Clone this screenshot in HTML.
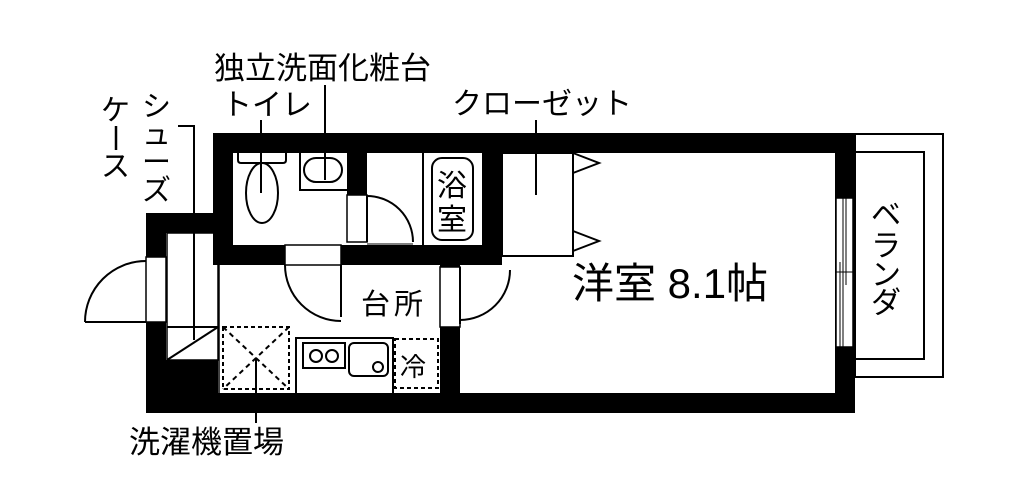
<!DOCTYPE html>
<html><head><meta charset="utf-8"><style>
html,body{margin:0;padding:0;background:#fff;}
svg{display:block;}
text{font-family:"Liberation Sans","Noto Sans CJK JP",sans-serif;fill:#000;}
</style></head><body>
<svg width="1024" height="486" viewBox="0 0 1024 486" xmlns="http://www.w3.org/2000/svg">
<rect x="855" y="134" width="88" height="243" fill="none" stroke="#000" stroke-width="2"/>
<rect x="855" y="152" width="69" height="207" fill="none" stroke="#000" stroke-width="2"/>
<g fill="#000">
<rect x="213" y="133" width="642" height="20"/>
<rect x="835" y="133" width="20" height="280"/>
<rect x="146" y="393" width="709" height="20"/>
<rect x="213" y="133" width="20" height="132"/>
<rect x="146" y="213" width="87" height="20"/>
<rect x="146" y="213" width="20" height="44"/>
<rect x="146" y="322" width="20" height="91"/>
<rect x="166" y="360" width="52" height="33"/>
<rect x="347" y="153" width="20" height="42"/>
<rect x="482" y="133" width="20" height="132"/>
<rect x="233" y="245" width="52" height="20"/>
<rect x="341" y="245" width="161" height="20"/>
<rect x="440" y="265" width="20" height="2"/>
<rect x="440" y="327" width="20" height="66"/>
<rect x="490" y="245" width="12" height="20"/>
</g>
<g fill="none" stroke="#000" stroke-width="2">
<rect x="146" y="257" width="20" height="65" fill="#fff" stroke-width="1.5"/>
<line x1="85" y1="322" x2="146" y2="322"/>
<path d="M85 322 A61 61 0 0 1 146 261"/>
<rect x="167" y="233" width="51" height="127" stroke-width="1.5"/>
<line x1="167" y1="327" x2="218" y2="327"/>
<line x1="167" y1="360" x2="218" y2="327"/>
<polyline points="178,126 194,126 194,340"/>
<line x1="219" y1="265" x2="219" y2="393" stroke-width="1.5"/>
<rect x="223" y="327" width="66" height="62" stroke-dasharray="4,3"/>
<line x1="223" y1="327" x2="289" y2="389" stroke-dasharray="5,4"/>
<line x1="289" y1="327" x2="223" y2="389" stroke-dasharray="5,4"/>
<line x1="256" y1="358" x2="256" y2="423"/>
<rect x="296" y="338" width="97" height="56"/>
<rect x="303" y="343" width="42" height="25"/>
<circle cx="316" cy="356" r="6"/>
<circle cx="332" cy="356" r="6"/>
<rect x="349" y="343" width="39" height="33" rx="5"/>
<circle cx="378" cy="367" r="5"/>
<rect x="395" y="339" width="43" height="49" stroke-dasharray="4,3"/>
<path d="M238 153 V160 Q238 163 241 163 H283 Q286 163 286 160 V153"/>
<ellipse cx="262" cy="193" rx="16" ry="30"/>
<line x1="261" y1="120" x2="261" y2="193"/>
<polyline points="300,153 300,190 347,190"/>
<rect x="304" y="158" width="38" height="24" rx="12"/>
<line x1="325" y1="85" x2="325" y2="180"/>
<rect x="347" y="195" width="20" height="47" fill="#fff" stroke-width="1.5"/>
<line x1="367" y1="195" x2="367" y2="242"/>
<path d="M367 196 A46 46 0 0 1 413 242"/>
<line x1="367" y1="244" x2="413" y2="244" stroke-width="1"/>
<line x1="423" y1="153" x2="423" y2="245"/>
<rect x="432" y="158" width="41" height="82" rx="10"/>
<rect x="285" y="245" width="56" height="20" fill="#fff" stroke-width="1.5"/>
<line x1="341" y1="265" x2="341" y2="317"/>
<path d="M285 265 A56 56 0 0 0 341 321"/>
<rect x="440" y="267" width="20" height="60" fill="#fff" stroke-width="1.5"/>
<line x1="460" y1="267" x2="460" y2="324"/>
<path d="M510 270 A50 50 0 0 1 460 320"/>
<rect x="502" y="153" width="71" height="103"/>
<polyline points="573,153 599,163 573,173"/>
<polyline points="573,231 599,241 573,251"/>
<line x1="536" y1="120" x2="536" y2="195"/>
<rect x="836" y="198" width="17" height="149" fill="#fff" stroke-width="1.5"/>
<line x1="843" y1="198" x2="843" y2="347" stroke-width="1"/>
<line x1="846" y1="198" x2="846" y2="285" stroke-width="1"/>
<line x1="840" y1="262" x2="840" y2="347" stroke-width="1"/>
<line x1="836" y1="272" x2="853" y2="272" stroke-width="1"/>
</g>
<text x="214" y="79" font-size="31">独立洗面化粧台</text>
<text x="222" y="115" font-size="30">トイレ</text>
<text x="452" y="114" font-size="30">クローゼット</text>
<text x="361" y="314" font-size="29" letter-spacing="4">台所</text>
<text x="400" y="376" font-size="26">冷</text>
<text x="572" y="298" font-size="42">洋室 8.1帖</text>
<text x="129" y="453" font-size="31">洗濯機置場</text>
<text x="437" y="196" font-size="30">浴</text>
<text x="437" y="230" font-size="30">室</text>
<g font-size="29">
<text x="142" y="116">シ</text>
<text x="142" y="144">ュ</text>
<text x="142" y="172">ー</text>
<text x="142" y="200">ズ</text>
<text x="101" y="120">ケ</text>
<text x="101" y="176">ス</text>
<text x="871" y="225" font-size="30">ベ</text>
<text x="871" y="256" font-size="30">ラ</text>
<text x="871" y="285" font-size="30">ン</text>
<text x="871" y="313" font-size="30">ダ</text>
</g>
<line x1="116" y1="126" x2="116" y2="150" stroke="#000" stroke-width="2.5"/>
</svg>
</body></html>
